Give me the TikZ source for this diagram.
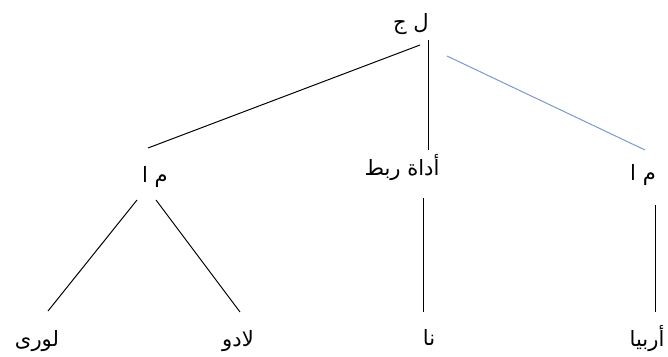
\documentclass[tikz,border=0pt]{standalone}
\usepackage{fontspec}
\usepackage{xcolor}
\newfontfamily\arabicfont[Script=Arabic]{DejaVu Sans}
\TeXXeTstate=1
\definecolor{branchblue}{RGB}{122,152,204}
\tikzset{
  word/.style={
    inner sep=1pt,
    font=\arabicfont\fontsize{15}{17}\selectfont
  },
  branch/.style={
    line width=0.7pt,
    black
  }
}

\begin{document}
\begin{tikzpicture}[x=0.025cm,y=-0.025cm]
\useasboundingbox (0,0) rectangle (668,356);

% category labels
\node[word] (sent) at (411,24) {\beginR ل ج\endR};
\node[word] (npleft) at (155,177) {\beginR م ا\endR};
\node[word] (conj) at (402,168) {\beginR أداة ربط\endR};
\node[word] (npright) at (643,175) {\beginR م ا\endR};

% leaves
\node[word] (lori) at (37,341) {\beginR لورى\endR};
\node[word] (ladu) at (238,341) {\beginR لادو\endR};
\node[word] (na) at (429,337) {\beginR نا\endR};
\node[word] (arbiya) at (647,339) {\beginR أربيا\endR};

% branch ends
\coordinate (sent-l) at (420,45);
\coordinate (sent-m) at (428,40);
\coordinate (sent-r) at (447,56);
\coordinate (npleft-t) at (148,148);
\coordinate (conj-t) at (428,150);
\coordinate (npright-t) at (645,150);
\coordinate (npleft-bl) at (137,200);
\coordinate (npleft-br) at (156,200);
\coordinate (conj-b) at (423,198);
\coordinate (npright-b) at (655,205);
\coordinate (lori-t) at (48,311);
\coordinate (ladu-t) at (240,312);
\coordinate (na-t) at (423,312);
\coordinate (arbiya-t) at (655,312);

\draw[branch] (sent-l) -- (npleft-t);
\draw[branch] (sent-m) -- (conj-t);
\draw[branch, branchblue] (sent-r) -- (npright-t);
\draw[branch] (npleft-bl) -- (lori-t);
\draw[branch] (npleft-br) -- (ladu-t);
\draw[branch] (conj-b) -- (na-t);
\draw[branch] (npright-b) -- (arbiya-t);

\end{tikzpicture}
\end{document}
